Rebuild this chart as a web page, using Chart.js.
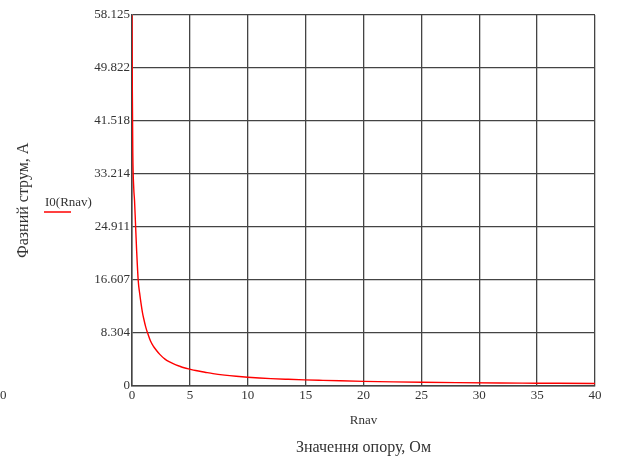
<!DOCTYPE html>
<html>
<head>
<meta charset="utf-8">
<script src="https://cdn.jsdelivr.net/npm/chart.js@4.4.1/dist/chart.umd.min.js"></script>
<style>
  html, body { margin: 0; padding: 0; background: #fff; }
  #wrap { width: 618px; height: 459px; position: relative; }
</style>
</head>
<body>
<div id="wrap"><canvas id="chart"></canvas></div>
<script>
/* Data */
const seriesLabel = 'I0(Rnav)';
const resistance = [0, 0.03, 0.07, 0.15, 0.22, 0.3, 0.4, 0.54, 0.66, 0.78, 0.9, 1.0, 1.2, 1.36, 1.6, 1.84, 2.1, 2.4, 2.85, 3.2, 3.6, 4.1, 4.5, 5, 5.5, 6.3, 7, 8, 9, 10, 11, 12, 13.5, 14.9, 16.5, 18, 20, 22.6, 25, 28, 31.8, 35, 40];
const current = [58.1, 46, 36.4, 31, 29, 25.5, 21.2, 16.4, 14.5, 12.9, 11.5, 10.6, 9.1, 8.2, 7.0, 6.2, 5.55, 4.9, 4.15, 3.75, 3.4, 3.05, 2.8, 2.57, 2.36, 2.1, 1.88, 1.65, 1.47, 1.32, 1.2, 1.1, 0.99, 0.9, 0.82, 0.75, 0.67, 0.59, 0.53, 0.47, 0.41, 0.38, 0.33];
const yTickValues = [0, 8.304, 16.607, 24.911, 33.214, 41.518, 49.822, 58.125];
const yTickLabels = ['0', '8.304', '16.607', '24.911', '33.214', '41.518', '49.822', '58.125'];
const xTickStep = 5;
const xMax = 40;
const xTitle = 'Rnav';
const bottomTitle = 'Значення опору, Ом';
const yTitle = 'Фазний струм, А';
const strayLabel = '0';

const serif = '"Liberation Serif", "DejaVu Serif", serif';
const textColor = '#333';
const gridColor = '#444';

// legend and the loose "0" sit outside the plot, so draw them by hand
const extrasPlugin = {
  id: 'extras',
  afterDraw: (chart) => {
    const ctx = chart.ctx;
    const ds = chart.data.datasets[0];
    ctx.save();
    ctx.font = `13px ${serif}`;
    ctx.fillStyle = textColor;
    ctx.textBaseline = 'middle';
    ctx.textAlign = 'left';
    ctx.fillText(ds.label, 45, 203);
    ctx.strokeStyle = ds.borderColor;
    ctx.lineWidth = 1.5;
    ctx.beginPath();
    ctx.moveTo(44, 212);
    ctx.lineTo(71, 212);
    ctx.stroke();
    ctx.fillText(strayLabel, 0, 396);
    ctx.restore();
  },
};

const initChart = () => {
  const canvas = document.getElementById('chart');
  return new Chart(canvas, {
    type: 'line',
    data: {
      datasets: [{
        label: seriesLabel,
        data: resistance.map((r, i) => ({ x: r, y: current[i] })),
        borderColor: '#ff0000',
        borderWidth: 1.4,
        pointRadius: 0,
        cubicInterpolationMode: 'monotone',
        fill: false,
      }],
    },
    plugins: [extrasPlugin],
    options: {
      responsive: true,
      maintainAspectRatio: false,
      animation: false,
      layout: { padding: { left: 0, top: 15, right: 23, bottom: 2 } },
      plugins: {
        legend: { display: false },
        tooltip: { enabled: false },
      },
      scales: {
        x: {
          type: 'linear',
          min: 0,
          max: xMax,
          ticks: {
            stepSize: xTickStep,
            color: textColor,
            font: { family: serif, size: 13 },
            padding: 2,
            maxRotation: 0,
          },
          grid: { color: gridColor, lineWidth: 1.3, drawTicks: false },
          border: { color: gridColor, width: 1.5 },
          title: {
            display: true,
            text: xTitle,
            color: textColor,
            font: { family: serif, size: 13 },
            padding: { top: 8, bottom: 0 },
          },
        },
        x2: {
          type: 'linear',
          position: 'bottom',
          min: 0,
          max: xMax,
          grid: { display: false, drawTicks: false },
          border: { display: false },
          ticks: { display: false },
          title: {
            display: true,
            text: bottomTitle,
            color: textColor,
            font: { family: serif, size: 16 },
            padding: { top: 9, bottom: 0 },
          },
        },
        y: {
          min: 0,
          max: 58.125,
          afterBuildTicks: (scale) => {
            scale.ticks = yTickValues.map((v) => ({ value: v }));
          },
          afterFit: (scale) => {
            scale.width = 132;
          },
          ticks: {
            color: textColor,
            font: { family: serif, size: 13 },
            padding: 2,
            callback: (v, i) => yTickLabels[i],
          },
          grid: { color: gridColor, lineWidth: 1.3, drawTicks: false },
          border: { color: gridColor, width: 1.5 },
          title: {
            display: true,
            text: yTitle,
            color: textColor,
            font: { family: serif, size: 16 },
            padding: { top: 14, bottom: 0 },
          },
        },
      },
    },
  });
};

initChart();
</script>
</body>
</html>
